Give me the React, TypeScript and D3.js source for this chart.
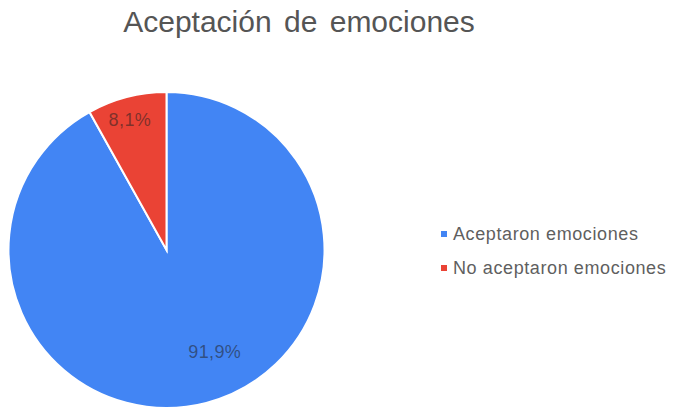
import React from 'react';
import * as d3 from 'd3';

const title = 'Aceptación de emociones';
const categories = ['Aceptaron emociones', 'No aceptaron emociones'];
const values = [91.9, 8.1];
const labels = ['91,9%', '8,1%'];
const colors = ['#4285f4', '#ea4335'];

const W = 679;
const H = 410;
const FONT = 'Arial, "Liberation Sans", sans-serif';

const App: React.FC = () => {
  const ref = React.useRef<SVGSVGElement>(null);

  React.useEffect(() => {
    const svg = d3.select(ref.current);
    svg.selectAll('*').remove();

    const cx = 166.5;
    const cy = 250;
    const r = 158;

    svg.append('text')
      .attr('x', 299)
      .attr('y', 32)
      .attr('text-anchor', 'middle')
      .attr('font-family', FONT)
      .attr('font-size', 30)
      .attr('word-spacing', 4)
      .attr('fill', '#555')
      .text(title);

    const pie = d3.pie<number>().sort(null).value(d => d);
    const arcs = pie(values);
    const arc = d3.arc<d3.PieArcDatum<number>>().innerRadius(0).outerRadius(r);

    const g = svg.append('g').attr('transform', `translate(${cx},${cy})`);
    g.selectAll('path')
      .data(arcs)
      .join('path')
      .attr('d', arc)
      .attr('fill', (_, i) => colors[i])
      .attr('stroke', '#fff')
      .attr('stroke-width', 2);

    // label placement tweaks (fraction of radius, angle shift in rad)
    const labelPos = [
      { k: 0.71, shift: -0.19 },
      { k: 0.855, shift: -0.02 },
    ];
    g.selectAll('text.lbl')
      .data(arcs)
      .join('text')
      .attr('class', 'lbl')
      .attr('transform', (d, i) => {
        const a = (d.startAngle + d.endAngle) / 2 + labelPos[i].shift;
        const rr = r * labelPos[i].k;
        return `translate(${rr * Math.sin(a)},${-rr * Math.cos(a)})`;
      })
      .attr('text-anchor', 'middle')
      .attr('dy', '0.35em')
      .attr('font-family', FONT)
      .attr('font-size', 18)
      .attr('letter-spacing', 0.4)
      .attr('fill', '#222')
      .attr('fill-opacity', 0.55)
      .text((_, i) => labels[i]);

    const legend = svg.append('g').attr('transform', 'translate(441,0)');
    const ly = d3.scalePoint<string>().domain(categories).range([234, 268]);
    const item = legend.selectAll('g')
      .data(categories)
      .join('g')
      .attr('transform', d => `translate(0,${ly(d)})`);
    item.append('rect')
      .attr('x', 0)
      .attr('y', -3)
      .attr('width', 6)
      .attr('height', 6)
      .attr('fill', (_, i) => colors[i]);
    item.append('text')
      .attr('x', 12)
      .attr('dy', '0.36em')
      .attr('font-family', FONT)
      .attr('font-size', 18)
      .attr('letter-spacing', 0.6)
      .attr('fill', '#5f5f5f')
      .text(d => d);
  }, []);

  return (
    <svg
      ref={ref}
      width={W}
      height={H}
      style={{ position: 'absolute', left: 0, top: 0, background: '#fff' }}
    />
  );
};

export default App;
